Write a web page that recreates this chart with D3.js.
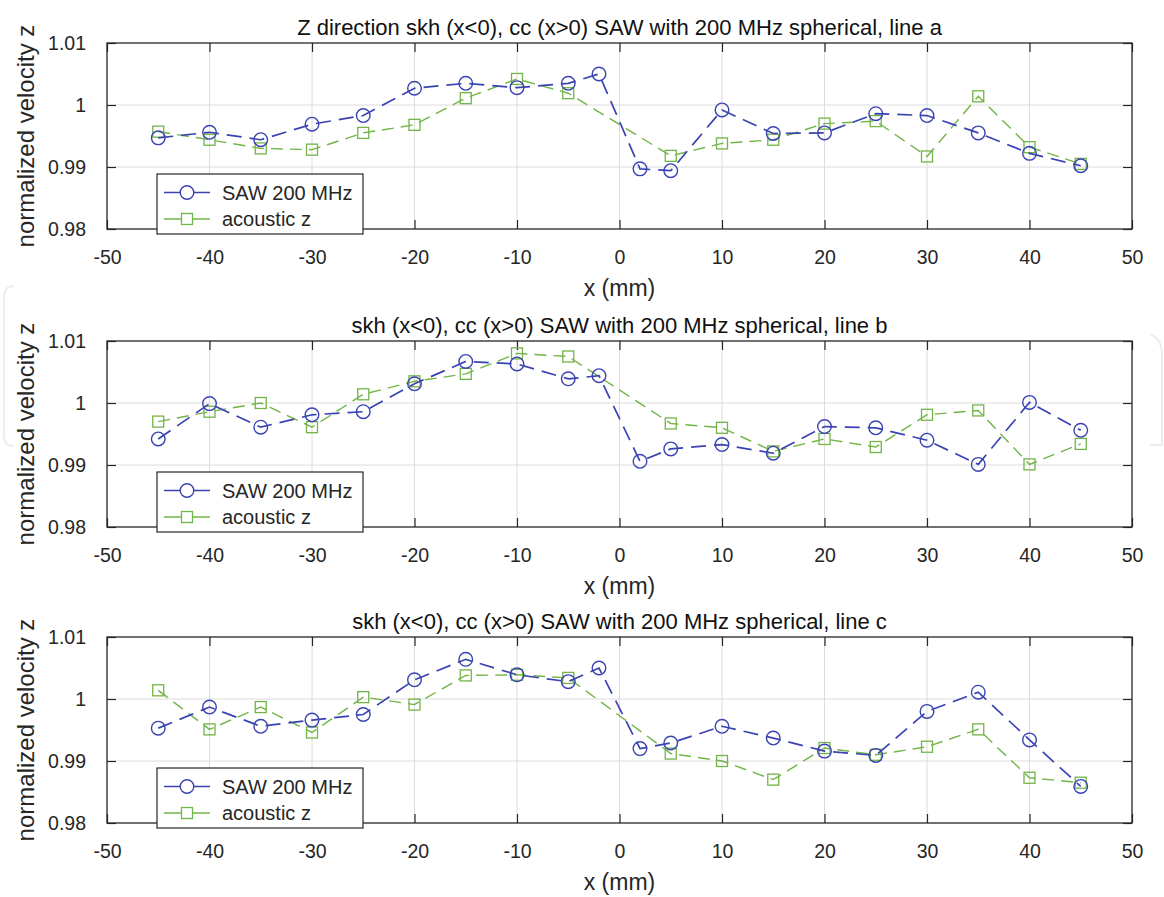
<!DOCTYPE html>
<html>
<head>
<meta charset="utf-8">
<script src="https://cdn.jsdelivr.net/npm/d3@7"></script>
<style>
  html, body { margin: 0; padding: 0; background: #ffffff; }
  svg { display: block; font-family: "Liberation Sans", Arial, Helvetica, sans-serif; }
</style>
</head>
<body>
<svg id="fig" width="1164" height="897"></svg>
<script>
// Measurement positions (mm) along the scan line
const sawX = [-45, -40, -35, -30, -25, -20, -15, -10, -5, -2, 2, 5, 10, 15, 20, 25, 30, 35, 40, 45];
const acousticX = [-45, -40, -35, -30, -25, -20, -15, -10, -5, 5, 10, 15, 20, 25, 30, 35, 40, 45];

// Line a
const sawLineA = [0.9947, 0.9956, 0.9944, 0.9969, 0.9983, 1.0027, 1.0035, 1.0028, 1.0035, 1.0050,
                  0.9897, 0.9894, 0.9992, 0.9954, 0.9955, 0.9986, 0.9983, 0.9955, 0.9922, 0.9902];
const acousticLineA = [0.9957, 0.9944, 0.9930, 0.9928, 0.9955, 0.9968, 1.0011, 1.0042, 1.0019,
                       0.9918, 0.9938, 0.9944, 0.9970, 0.9974, 0.9917, 1.0014, 0.9932, 0.9905];

// Line b
const sawLineB = [0.9942, 0.9999, 0.9961, 0.9981, 0.9986, 1.0031, 1.0067, 1.0063, 1.0039, 1.0044,
                  0.9906, 0.9926, 0.9933, 0.9919, 0.9962, 0.9960, 0.9940, 0.9901, 1.0001, 0.9956];
const acousticLineB = [0.9970, 0.9986, 1.0000, 0.9961, 1.0014, 1.0035, 1.0047, 1.0080, 1.0075,
                       0.9967, 0.9960, 0.9922, 0.9942, 0.9929, 0.9981, 0.9988, 0.9901, 0.9934];

// Line c
const sawLineC = [0.9953, 0.9987, 0.9956, 0.9966, 0.9975, 1.0031, 1.0064, 1.0039, 1.0028, 1.0050,
                  0.9920, 0.9929, 0.9956, 0.9937, 0.9916, 0.9909, 0.9980, 1.0011, 0.9934, 0.9859];
const acousticLineC = [1.0014, 0.9951, 0.9987, 0.9946, 1.0003, 0.9991, 1.0038, 1.0039, 1.0034,
                       0.9912, 0.9900, 0.9870, 0.9921, 0.9910, 0.9923, 0.9951, 0.9873, 0.9865];

const titles = [
  "Z direction skh (x<0), cc (x>0) SAW with 200 MHz spherical, line a",
  "skh (x<0), cc (x>0) SAW with 200 MHz spherical, line b",
  "skh (x<0), cc (x>0) SAW with 200 MHz spherical, line c"
];
const seriesNames = ["SAW 200 MHz", "acoustic z"];
const xTicks = [-50, -40, -30, -20, -10, 0, 10, 20, 30, 40, 50];
const xTickLabels = ["-50", "-40", "-30", "-20", "-10", "0", "10", "20", "30", "40", "50"];
const yTicks = [0.98, 0.99, 1, 1.01];
const yTickLabels = ["0.98", "0.99", "1", "1.01"];
const xLabel = "x (mm)";
const yLabel = "normalized velocity z";

const sawSets = [sawLineA, sawLineB, sawLineC];
const acousticSets = [acousticLineA, acousticLineB, acousticLineC];

// Styling
const BLUE = "#3a43b2";
const GREEN = "#72b447";
const AXIS = "#262626";
const GRID = "#dcdcdc";

const svg = d3.select("#fig");

// Faint rounded outlines showing at the figure margins
svg.append("path")
  .attr("d", "M14,286 Q4,286 4,298 V436 Q4,446 14,446")
  .attr("fill", "none").attr("stroke", "#ededed").attr("stroke-width", 2);
svg.append("path")
  .attr("d", "M1150,334 Q1162,338 1162,356 V445 H1150")
  .attr("fill", "none").attr("stroke", "#ededed").attr("stroke-width", 2);

const left = 107, right = 1132;
const panelTops = [43, 341, 637];
const panelHeight = 186;

panelTops.forEach((top, i) => {
  const bottom = top + panelHeight;
  const x = d3.scaleLinear().domain([-50, 50]).range([left, right]);
  const y = d3.scaleLinear().domain([0.98, 1.01]).range([bottom, top]);
  const g = svg.append("g");

  // Grid
  g.append("g").selectAll("line").data(xTicks.slice(1, -1)).join("line")
    .attr("x1", d => x(d)).attr("x2", d => x(d))
    .attr("y1", top).attr("y2", bottom)
    .attr("stroke", GRID).attr("stroke-width", 1);
  g.append("g").selectAll("line").data(yTicks.slice(1, -1)).join("line")
    .attr("x1", left).attr("x2", right)
    .attr("y1", d => y(d)).attr("y2", d => y(d))
    .attr("stroke", GRID).attr("stroke-width", 1);

  // Axes (inward ticks on all four sides)
  const fmtX = d => xTickLabels[xTicks.indexOf(d)];
  const fmtY = d => yTickLabels[yTicks.indexOf(d)];
  const bottomAxis = g.append("g").attr("transform", `translate(0,${bottom})`)
    .call(d3.axisBottom(x).tickValues(xTicks).tickFormat(fmtX).tickSizeInner(-9).tickSizeOuter(0).tickPadding(21));
  const topAxis = g.append("g").attr("transform", `translate(0,${top})`)
    .call(d3.axisTop(x).tickValues(xTicks).tickSizeInner(-9).tickSizeOuter(0).tickFormat(""));
  const leftAxis = g.append("g").attr("transform", `translate(${left},0)`)
    .call(d3.axisLeft(y).tickValues(yTicks).tickFormat(fmtY).tickSizeInner(-9).tickSizeOuter(0).tickPadding(21));
  const rightAxis = g.append("g").attr("transform", `translate(${right},0)`)
    .call(d3.axisRight(y).tickValues(yTicks).tickSizeInner(-9).tickSizeOuter(0).tickFormat(""));
  [bottomAxis, topAxis, leftAxis, rightAxis].forEach(a => {
    a.select(".domain").remove();
    a.selectAll(".tick line").attr("stroke", AXIS).attr("stroke-width", 1.2);
    a.selectAll("text").attr("fill", AXIS).style("font-size", "19.5px")
      .style("font-family", "'Liberation Sans', Arial, sans-serif");
  });
  bottomAxis.selectAll("text").attr("dy", "0.71em");

  // Data lines
  const sawPts = sawX.map((d, k) => [d, sawSets[i][k]]);
  const acPts = acousticX.map((d, k) => [d, acousticSets[i][k]]);
  const line = d3.line().x(d => x(d[0])).y(d => y(d[1]));

  g.append("path").datum(acPts).attr("d", line)
    .attr("fill", "none").attr("stroke", GREEN).attr("stroke-width", 1.4)
    .attr("stroke-dasharray", "12,7");
  g.append("g").selectAll("rect").data(acPts).join("rect")
    .attr("x", d => x(d[0]) - 5.5).attr("y", d => y(d[1]) - 5.5)
    .attr("width", 11).attr("height", 11)
    .attr("fill", "none").attr("stroke", GREEN).attr("stroke-width", 1.3);

  g.append("path").datum(sawPts).attr("d", line)
    .attr("fill", "none").attr("stroke", BLUE).attr("stroke-width", 1.7)
    .attr("stroke-dasharray", "15,8");
  g.append("g").selectAll("circle").data(sawPts).join("circle")
    .attr("cx", d => x(d[0])).attr("cy", d => y(d[1])).attr("r", 6.8)
    .attr("fill", "none").attr("stroke", BLUE).attr("stroke-width", 1.4);

  // Frame
  g.append("rect").attr("x", left).attr("y", top)
    .attr("width", right - left).attr("height", bottom - top)
    .attr("fill", "none").attr("stroke", AXIS).attr("stroke-width", 1.3);

  // Title
  g.append("text").attr("x", (left + right) / 2).attr("y", top - 8)
    .attr("text-anchor", "middle").attr("fill", "#111").style("font-size", "22px")
    .text(titles[i]);

  // Axis labels
  g.append("text").attr("x", (left + right) / 2).attr("y", bottom + 67)
    .attr("text-anchor", "middle").attr("fill", AXIS).style("font-size", "23px")
    .text(xLabel);
  g.append("text")
    .attr("transform", `translate(34,${(top + bottom) / 2}) rotate(-90)`)
    .attr("text-anchor", "middle").attr("fill", AXIS).style("font-size", "24px")
    .text(yLabel);

  // Legend
  const lg = g.append("g").attr("transform", `translate(157,${bottom - 55})`);
  lg.append("rect").attr("width", 206).attr("height", 60)
    .attr("fill", "#ffffff").attr("stroke", AXIS).attr("stroke-width", 1.2);
  const rows = [
    { name: seriesNames[0], color: BLUE, shape: "circle", cy: 18.5 },
    { name: seriesNames[1], color: GREEN, shape: "square", cy: 45 }
  ];
  rows.forEach(r => {
    lg.append("line").attr("x1", 7).attr("x2", 53).attr("y1", r.cy).attr("y2", r.cy)
      .attr("stroke", r.color).attr("stroke-width", r.shape === "circle" ? 1.7 : 1.4);
    if (r.shape === "circle") {
      lg.append("circle").attr("cx", 30).attr("cy", r.cy).attr("r", 6.8)
        .attr("fill", "#fff").attr("stroke", r.color).attr("stroke-width", 1.4);
    } else {
      lg.append("rect").attr("x", 24.5).attr("y", r.cy - 5.5).attr("width", 11).attr("height", 11)
        .attr("fill", "#fff").attr("stroke", r.color).attr("stroke-width", 1.3);
    }
    lg.append("text").attr("x", 65).attr("y", r.cy).attr("dy", "0.36em")
      .attr("fill", AXIS).style("font-size", "20px").text(r.name);
  });
});
</script>
</body>
</html>
